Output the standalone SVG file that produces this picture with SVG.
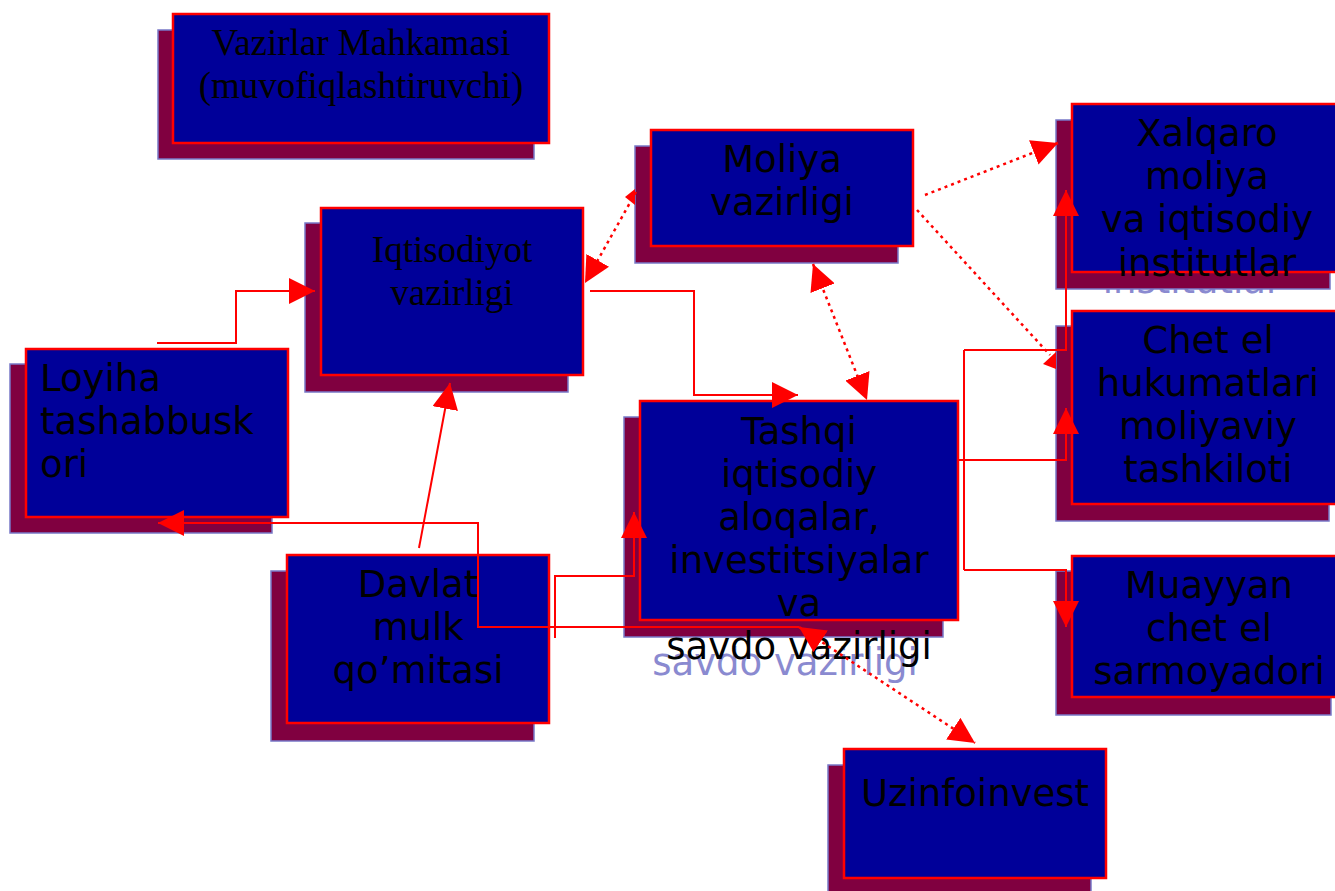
<svg xmlns="http://www.w3.org/2000/svg" width="1335" height="891" viewBox="0 0 1335 891">
<style>
.sh{fill:#800040;stroke:#7878c8;stroke-width:1.5}
.mn{fill:#000099;stroke:#ff0000;stroke-width:2.5}
.s{font-family:"DejaVu Sans","Liberation Sans",sans-serif;font-size:37px;fill:#000;text-anchor:middle}
.sl{font-family:"DejaVu Sans","Liberation Sans",sans-serif;font-size:37px;fill:#000}
.r{font-family:"Liberation Serif","Times New Roman",serif;font-size:37px;fill:#000;text-anchor:middle}
.g{font-family:"DejaVu Sans","Liberation Sans",sans-serif;font-size:37px;fill:#8a8ad0;text-anchor:middle}
.c{fill:none;stroke:#ff0000;stroke-width:2}
.d{fill:none;stroke:#ff0000;stroke-width:2.5;stroke-dasharray:3 4}
.ah{fill:#ff0000}
</style>
<defs>
<marker id="a" markerUnits="userSpaceOnUse" markerWidth="26" markerHeight="26" refX="26" refY="13" orient="auto-start-reverse" viewBox="0 0 26 26">
<path d="M0,0 L26,13 L0,26 Z" fill="#ff0000"/>
</marker>
<clipPath id="cx"><rect x="1040" y="289" width="300" height="20"/></clipPath>
</defs>

<g id="vazirlar">
<rect class="sh" x="158" y="30" width="376" height="129"/>
<rect class="mn" x="173" y="14" width="376" height="129"/>
<text class="r" x="361" y="55">Vazirlar Mahkamasi</text>
<text class="r" x="361" y="98">(muvofiqlashtiruvchi)</text>
</g>

<g id="iqtisodiyot">
<rect class="sh" x="305" y="223" width="263" height="169"/>
<rect class="mn" x="321" y="208" width="262" height="167"/>
<text class="r" x="452" y="262">Iqtisodiyot</text>
<text class="r" x="452" y="305">vazirligi</text>
</g>

<g id="moliya">
<rect class="sh" x="635" y="146" width="263" height="117"/>
<rect class="mn" x="651" y="130" width="262" height="116"/>
<text class="s" x="782" y="172">Moliya</text>
<text class="s" x="782" y="215">vazirligi</text>
</g>

<g id="xalqaro">
<text class="g" x="1192" y="293" clip-path="url(#cx)">institutlar</text>
<rect class="sh" x="1056" y="120" width="274" height="169"/>
<rect class="mn" x="1072" y="104" width="266" height="168"/>
<text class="s" x="1207" y="146">Xalqaro</text>
<text class="s" x="1207" y="189">moliya</text>
<text class="s" x="1207" y="232">va iqtisodiy</text>
<text class="s" x="1207" y="276">institutlar</text>
</g>

<g id="chetel">
<rect class="sh" x="1056" y="326" width="273" height="195"/>
<rect class="mn" x="1072" y="311" width="266" height="193"/>
<text class="s" x="1208" y="353">Chet el</text>
<text class="s" x="1208" y="396">hukumatlari</text>
<text class="s" x="1208" y="439">moliyaviy</text>
<text class="s" x="1208" y="482">tashkiloti</text>
</g>

<g id="loyiha">
<rect class="sh" x="10" y="364" width="262" height="169"/>
<rect class="mn" x="26" y="349" width="262" height="168"/>
<text class="sl" x="40" y="391">Loyiha</text>
<text class="sl" x="40" y="434">tashabbusk</text>
<text class="sl" x="40" y="477">ori</text>
</g>

<g id="tashqi">
<text class="g" x="785" y="675">savdo vazirligi</text>
<rect class="sh" x="624" y="417" width="319" height="220"/>
<rect class="mn" x="640" y="401" width="318" height="219"/>
<text class="s" x="799" y="444">Tashqi</text>
<text class="s" x="799" y="487">iqtisodiy</text>
<text class="s" x="799" y="530">aloqalar,</text>
<text class="s" x="799" y="573">investitsiyalar</text>
<text class="s" x="799" y="616">va</text>
<text class="s" x="799" y="659">savdo vazirligi</text>
</g>

<g id="davlat">
<rect class="sh" x="271" y="571" width="263" height="170"/>
<rect class="mn" x="287" y="555" width="262" height="168"/>
<text class="s" x="418" y="597">Davlat</text>
<text class="s" x="418" y="640">mulk</text>
<text class="s" x="418" y="683">qo’mitasi</text>
</g>

<g id="muayyan">
<rect class="sh" x="1056" y="571" width="275" height="144"/>
<rect class="mn" x="1072" y="556" width="266" height="141"/>
<text class="s" x="1209" y="598">Muayyan</text>
<text class="s" x="1209" y="641">chet el</text>
<text class="s" x="1209" y="684">sarmoyadori</text>
</g>

<g id="uzinfoinvest">
<rect class="sh" x="828" y="765" width="263" height="130"/>
<rect class="mn" x="844" y="749" width="262" height="129"/>
<text class="s" x="975" y="806">Uzinfoinvest</text>
</g>

<g id="connectors">
<path class="c" d="M157,343 H236 V291 H315" marker-end="url(#a)"/>
<path class="c" d="M590,291 H694 V395 H798" marker-end="url(#a)"/>
<path class="c" d="M419,548 L450,383" marker-end="url(#a)"/>
<path class="c" d="M555,638 V576 H634 V512" marker-end="url(#a)"/>
<path class="c" d="M799,627 H478 V523 H158" marker-end="url(#a)"/>
<path class="c" d="M964,350 V570"/>
<path class="c" d="M964,350 H1066 V190" marker-end="url(#a)"/>
<path class="c" d="M958,460 H1066 V408" marker-end="url(#a)"/>
<path class="c" d="M964,570 H1066 V627" marker-end="url(#a)"/>
<path class="d" d="M636,192 L585,283" marker-end="url(#a)"/>
<polygon class="ah" points="625,197 635,189 635,205"/>
<path class="d" d="M813,264 L867,400" marker-start="url(#a)" marker-end="url(#a)"/>
<path class="d" d="M925,195 L1058,143" marker-end="url(#a)"/>
<path class="d" d="M917,210 L1050,355"/>
<polygon class="ah" points="1043,364 1056,352 1056,369"/>
<path class="d" d="M799,627 L975,743" marker-start="url(#a)" marker-end="url(#a)"/>
</g>
</svg>
